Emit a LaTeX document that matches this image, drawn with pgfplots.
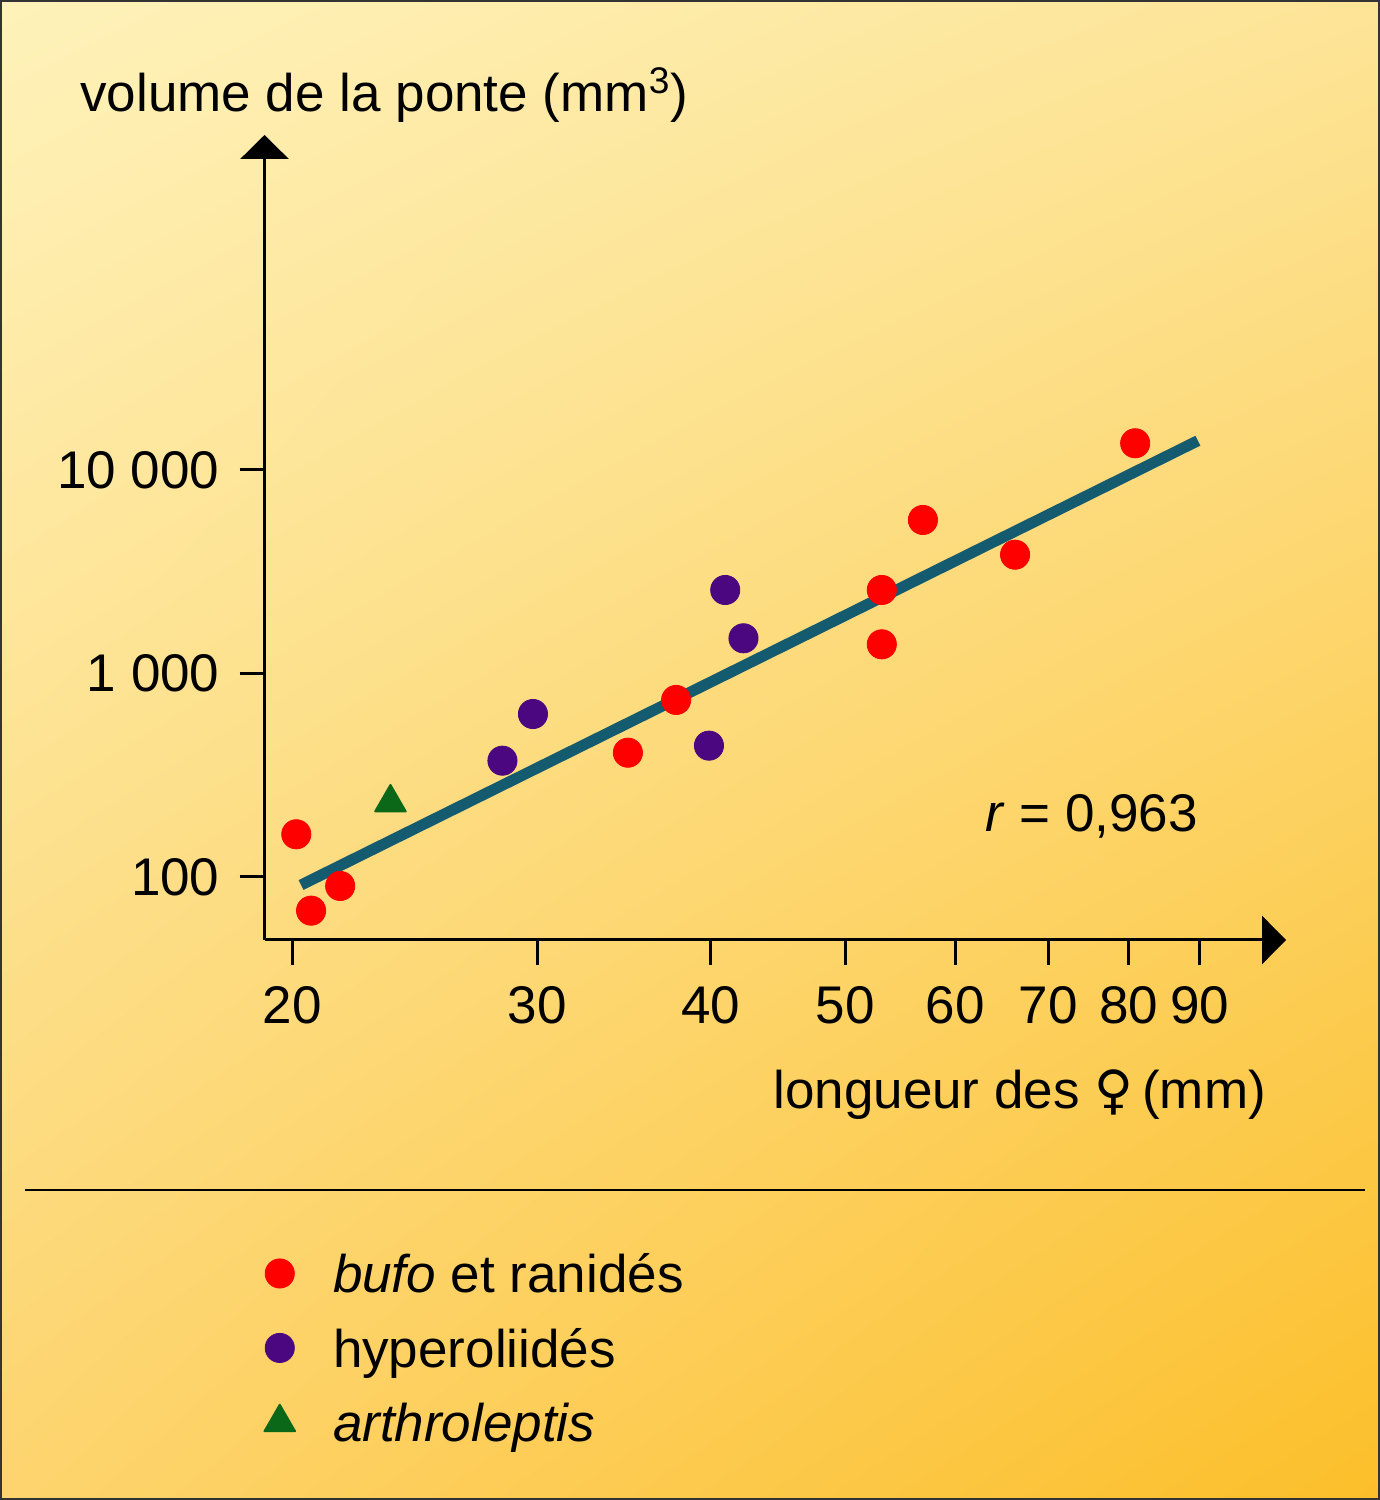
\documentclass[border=0pt]{standalone}
\usepackage{pgfplots}
\pgfplotsset{compat=1.18}
\usepackage{fontspec}
\setmainfont{Liberation Sans}
\newfontfamily\symfont{DejaVu Sans}
\usetikzlibrary{arrows.meta,shadings}
\definecolor{bufo}{HTML}{FF0000}
\definecolor{hyper}{HTML}{4A0780}
\definecolor{arth}{HTML}{0A6818}
\definecolor{fitc}{HTML}{155B70}
\definecolor{bgTL}{HTML}{FEF2BA}
\definecolor{bgTR}{HTML}{FDE497}
\definecolor{bgBL}{HTML}{FDD46E}
\definecolor{bgBR}{HTML}{FCBF2A}
\newcommand{\legstrut}{\rule[-0.3425em]{0pt}{1.405em}}
\pgfplotsset{legmark/.style={legend image code/.code={\draw[##1] plot coordinates {(0pt,0pt)};}}}
\begin{document}
\begin{tikzpicture}[font=\fontsize{26.5}{32}\selectfont]
\useasboundingbox (0pt,0pt) rectangle (690pt,750pt);
\shade[upper left=bgTL, upper right=bgTR, lower left=bgBL, lower right=bgBR] (0pt,0pt) rectangle (690pt,750pt);
\draw[line width=1pt, black!80] (0.5pt,0.5pt) rectangle (689.5pt,749.5pt);
\begin{axis}[
  at={(132.25pt,280pt)}, anchor=south west,
  scale only axis, width=510.75pt, height=402.5pt,
  xmode=log, ymode=log,
  xmin=19.1, xmax=103.8, ymin=49, ymax=442900,
  axis lines=left,
  axis line style={line width=1.5pt, -{Triangle[length=12pt,width=24pt]}},
  xtick={20,30,40,50,60,70,80,90},
  xticklabels={20,30,40,50,60,70,80,90},
  ytick={100,1000,10000},
  yticklabels={100,1 000,10 000},
  xticklabel style={yshift=-7pt},
  yticklabel style={xshift=-6.5pt},
  xminorticks=false, yminorticks=false,
  tick align=outside, major tick length=12.5pt,
  tick style={line width=1.5pt, black},
  clip=false,
  legend style={at={(0,-0.368)}, anchor=north west, draw=none, fill=none,
    inner sep=0pt, outer sep=0pt, row sep=0pt, column sep=19pt,
    nodes={inner sep=0pt, text depth={}}},
  legend cell align=left,
]
\addplot[fitc, line width=5.5pt, forget plot] coordinates {(20.29,91.3) (89.7,13930)};
\addplot[only marks, mark=*, mark size=7.3pt, color=bufo, line width=0.4pt, legmark] coordinates {
(20.13,162.1) (20.63,68.3) (21.65,90.3) (34.88,408) (37.78,741)
(53.12,2572) (53.12,1391) (56.87,5680) (66.25,3835) (80.84,13530)};
\addlegendentry{\legstrut\textit{bufo} et ranidés}
\addplot[only marks, mark=*, mark size=7.3pt, color=hyper, line width=0.4pt, legmark] coordinates {
(28.33,372.8) (29.80,632) (39.9,441.9) (40.98,2572) (42.24,1489)};
\addlegendentry{\legstrut hyperoliidés}
\addplot[only marks, mark=triangle*, mark size=8.8pt, color=arth, line width=1pt, line join=round, legmark] coordinates {(23.53,232)};
\addlegendentry{\legstrut\textit{arthroleptis}}
\end{axis}
\node[anchor=base west, inner sep=0pt] at (40pt,694pt) {volume de la ponte (mm\textsuperscript{3})};
\node[anchor=base west, inner sep=0pt] at (386.5pt,195.5pt) {longueur des {\symfont ♀}\,(mm)};
\node[anchor=base west, inner sep=0pt] at (492.5pt,334pt) {\textit{r} = 0,963};
\draw[line width=1pt] (12.5pt,155pt) -- (682.5pt,155pt);
\end{tikzpicture}
\end{document}
